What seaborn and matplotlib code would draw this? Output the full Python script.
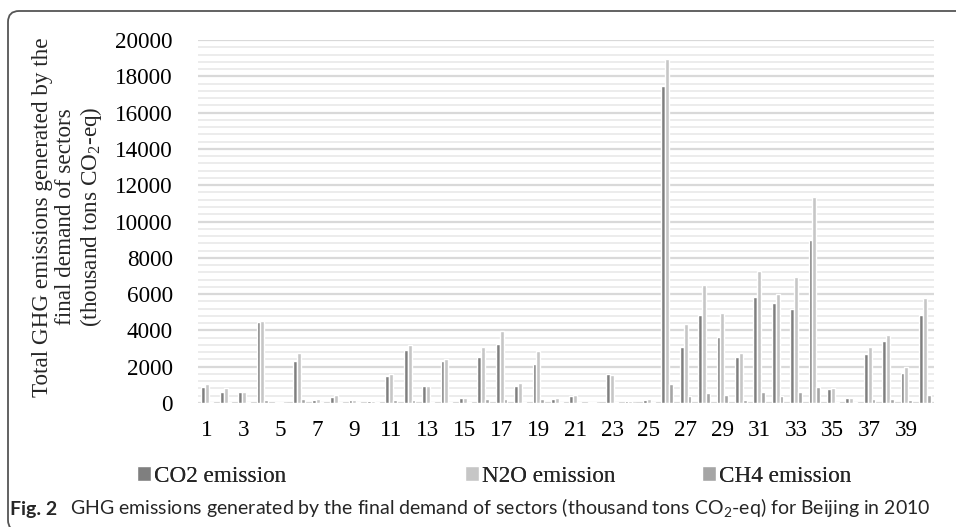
import numpy as np
import pandas as pd
import matplotlib
matplotlib.use("Agg")
import matplotlib.pyplot as plt
import seaborn as sns
from matplotlib.patches import FancyBboxPatch
from matplotlib.transforms import IdentityTransform
from matplotlib.ticker import MultipleLocator
from matplotlib import font_manager

# ---------------- data ----------------
sectors = [str(i) for i in range(1, 41)]
co2_emission = [900, 580, 600, 4490, 30, 2310, 160, 350, 160, 110,
                1510, 2930, 910, 2310, 270, 2545, 3270, 945, 2145, 200,
                400, 40, 1620, 90, 180, 17470, 3090, 4840, 3620, 2545,
                5820, 5490, 5160, 8980, 760, 255, 2710, 3400, 1636, 4870]
n2o_emission = [1036, 800, 620, 4530, 30, 2760, 220, 420, 180, 130,
                1620, 3220, 960, 2400, 290, 3070, 3980, 1110, 2890, 255,
                455, 40, 1545, 90, 220, 18950, 4345, 6500, 4950, 2760,
                7290, 6000, 6940, 11330, 820, 290, 3090, 3760, 2000, 5800]
ch4_emission = [60, 50, 40, 145, 10, 200, 40, 60, 30, 30,
                160, 180, 50, 80, 30, 200, 220, 50, 220, 40,
                60, 10, 60, 20, 30, 1036, 364, 527, 420, 160,
                580, 380, 620, 855, 60, 40, 220, 220, 160, 455]
series_names = ["CO2 emission", "N2O emission", "CH4 emission"]
tick_labels = [str(i) for i in range(1, 40, 2)]
y_label = "Total GHG emissions generated by the\nfinal demand of sectors\n(thousand tons CO$_\\mathregular{2}$-eq)"
caption_bold = "Fig. 2"
caption_text = "GHG emissions generated by the final demand of sectors (thousand tons CO$_\\mathregular{2}$-eq) for Beijing in 2010"

colors = ["#7f7f7f", "#c6c6c6", "#a5a5a5"]

df = pd.DataFrame({
    "sector": sectors * 3,
    "gas": [series_names[0]] * 40 + [series_names[1]] * 40 + [series_names[2]] * 40,
    "value": co2_emission + n2o_emission + ch4_emission,
})

# ---------------- style ----------------
sns.set_style("white")
plt.rcParams["font.family"] = ["Liberation Serif", "DejaVu Serif"]
names = {f.name for f in font_manager.fontManager.ttflist}
cap_font = "Lato" if "Lato" in names else ("Open Sans" if "Open Sans" in names else "DejaVu Sans")

W, H = 956, 527
fig = plt.figure(figsize=(W / 100, H / 100), dpi=100)
ax = fig.add_axes([198 / W, 1 - 403 / H, (934 - 198) / W, (403 - 40) / H])

sns.barplot(data=df, x="sector", y="value", hue="gas", order=sectors,
            hue_order=series_names, palette=colors, width=0.62, gap=0,
            errorbar=None, legend=False, ax=ax, saturation=1)

ax.set_ylim(0, 20000)
ax.set_xlim(-0.5, 39.5)
ax.yaxis.set_major_locator(MultipleLocator(2000))
ax.yaxis.set_minor_locator(MultipleLocator(400))
ax.grid(which="major", axis="y", color="#d9d9d9", linewidth=1.6)
ax.grid(which="minor", axis="y", color="#ececec", linewidth=1.4)
ax.set_axisbelow(True)
ax.set_xticks(range(0, 40, 2))
ax.set_xticklabels(tick_labels)
ax.tick_params(axis="both", which="both", length=0, labelsize=16.7, colors="black")
ax.tick_params(axis="y", pad=18)
ax.tick_params(axis="x", pad=12)
ax.set_xlabel("")
ax.set_ylabel("")
for s in ax.spines.values():
    s.set_visible(False)

fig.text(68 / W, 1 - 217 / H, y_label, rotation=90, ha="center", va="center",
         multialignment="center", fontsize=16.7, linespacing=1.12)

# legend entries, each placed where the reference puts it
leg_x = [137, 465, 702]
for cont, name, lx in zip(ax.containers, series_names, leg_x):
    lg = fig.legend(handles=[cont], labels=[name], loc="center left",
                    bbox_to_anchor=(lx / W, 1 - 476 / H), frameon=False,
                    handlelength=0.6, handleheight=0.6, handletextpad=0.12,
                    borderpad=0, borderaxespad=0, fontsize=16.7)
    fig.add_artist(lg)

# caption
fig.canvas.draw()
r = fig.canvas.get_renderer()
t1 = fig.text(10 / W, 1 - 515 / H, caption_bold, fontweight="bold",
              family=cap_font, fontsize=15, va="baseline", ha="left")
bb = t1.get_window_extent(r)
t2 = fig.text((bb.x1 + 14) / W, 1 - 515 / H, caption_text,
              family=cap_font, fontsize=15, va="baseline", ha="left")
bb2 = t2.get_window_extent(r)
scale = (931 - 10) / (bb2.x1 - bb.x0)
t1.set_fontsize(15 * scale)
t2.set_fontsize(15 * scale)
bb = t1.get_window_extent(r)
t2.set_x((bb.x1 + 14 * scale) / W)

# rounded border (left / top visible)
border = FancyBboxPatch((8, -4), 1000, (H - 11) + 4,
                        boxstyle="round,pad=0,rounding_size=11",
                        transform=IdentityTransform(), fill=False,
                        edgecolor="#555555", linewidth=1.3)
fig.add_artist(border)

fig.savefig("out.png", dpi=100)
